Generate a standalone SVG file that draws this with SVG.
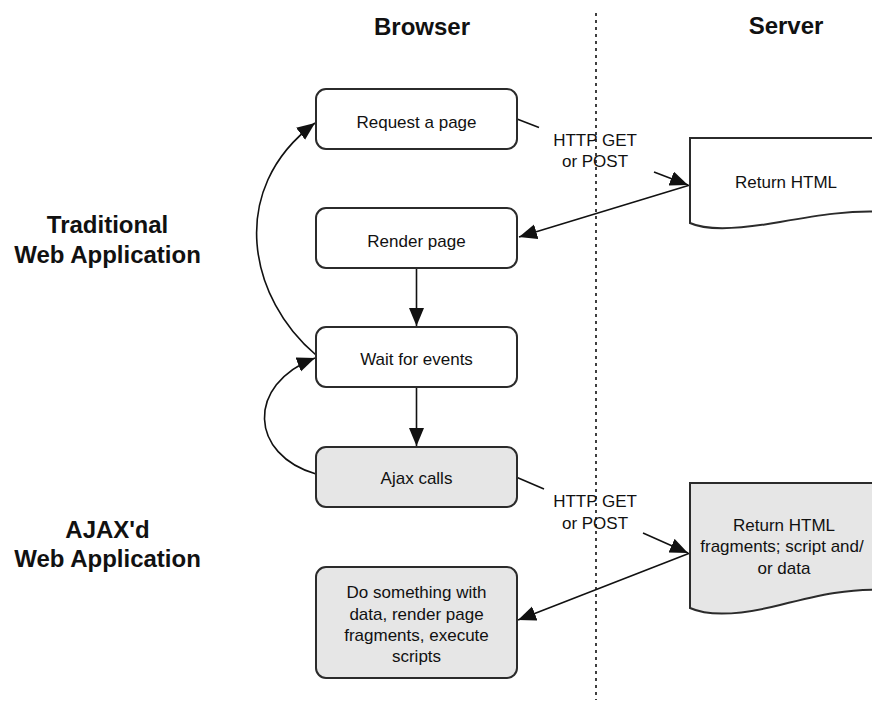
<svg xmlns="http://www.w3.org/2000/svg" width="872" height="703" viewBox="0 0 872 703">
<style>
  .box { stroke: #2b2b2b; stroke-width: 2; fill: #ffffff; }
  .gray { fill: #e6e6e6; }
  .t { font-family: "Liberation Sans", Arial, sans-serif; font-size: 17px; fill: #111; text-anchor: middle; }
  .h { font-family: "Liberation Sans", Arial, sans-serif; font-size: 24px; font-weight: bold; fill: #111; text-anchor: middle; }
  .conn { stroke: #111; stroke-width: 1.6; fill: none; marker-end: url(#arrow); }
  .seg { stroke: #111; stroke-width: 1.6; fill: none; }
  .divider { stroke: #111; stroke-width: 1.6; stroke-dasharray: 3 4; }
</style>
<defs>
  <marker id="arrow" markerUnits="userSpaceOnUse" markerWidth="19" markerHeight="16" refX="18" refY="7.5" orient="auto">
    <path d="M0,0 L18,7.5 L0,15 Z" fill="#111"/>
  </marker>
</defs>
<rect width="872" height="703" fill="#ffffff"/>

<g id="headers">
  <text class="h" x="422" y="35">Browser</text>
  <text class="h" x="786" y="34">Server</text>
</g>
<g id="labels-left">
  <text class="h" x="107.5" y="233">Traditional</text>
  <text class="h" x="107.5" y="263">Web Application</text>
  <text class="h" x="107.5" y="538">AJAX'd</text>
  <text class="h" x="107.5" y="567">Web Application</text>
</g>

<line id="divider" class="divider" x1="596" y1="13" x2="596" y2="700"/>

<g id="connectors">
  <path class="seg" d="M517,119 L539,127.5"/>
  <path class="conn" d="M654,172 L688,185"/>
  <path class="conn" d="M690,185 L519,237"/>
  <path class="conn" d="M416.5,268 L416.5,326"/>
  <path class="conn" d="M416.5,387 L416.5,446"/>
  <path class="conn" d="M316,355 C250,300 225,190 315,123"/>
  <path class="conn" d="M316,474 C250,455 245,385 315,358"/>
  <path class="seg" d="M516,477 L544,489"/>
  <path class="conn" d="M643,533 L688,553"/>
  <path class="conn" d="M690,553 L518,620"/>
  <g id="conn-labels">
    <text class="t" x="595" y="146">HTTP GET</text>
    <text class="t" x="595" y="167">or POST</text>
    <text class="t" x="595" y="507">HTTP GET</text>
    <text class="t" x="595" y="529">or POST</text>
  </g>
</g>

<g id="request">
  <rect class="box" x="316" y="89" width="201" height="60" rx="10"/>
  <text class="t" x="416.5" y="128">Request a page</text>
</g>
<g id="render">
  <rect class="box" x="316" y="208" width="201" height="60" rx="10"/>
  <text class="t" x="416.5" y="247">Render page</text>
</g>
<g id="wait">
  <rect class="box" x="316" y="327" width="201" height="60" rx="10"/>
  <text class="t" x="416.5" y="365">Wait for events</text>
</g>
<g id="ajax">
  <rect class="box gray" x="316" y="447" width="201" height="60" rx="10"/>
  <text class="t" x="416.5" y="484">Ajax calls</text>
</g>
<g id="dosomething">
  <rect class="box gray" x="316" y="567" width="201" height="111" rx="10"/>
  <text class="t" x="416.5" y="598">Do something with</text>
  <text class="t" x="416.5" y="620">data, render page</text>
  <text class="t" x="416.5" y="641">fragments, execute</text>
  <text class="t" x="416.5" y="662">scripts</text>
</g>
<g id="return-html">
  <path class="box" d="M690,138 H885 V212 C850,210 820,215 780,222 C735,230 705,230 690,223 Z"/>
  <text class="t" x="786" y="188">Return HTML</text>
</g>
<g id="return-fragments">
  <path class="box gray" d="M690,483 H885 V590 C850,588 820,595 780,605 C740,615 710,617 690,608 Z"/>
  <text class="t" x="784" y="531">Return HTML</text>
  <text class="t" x="782" y="552">fragments; script and/</text>
  <text class="t" x="784" y="574">or data</text>
</g>
</svg>
